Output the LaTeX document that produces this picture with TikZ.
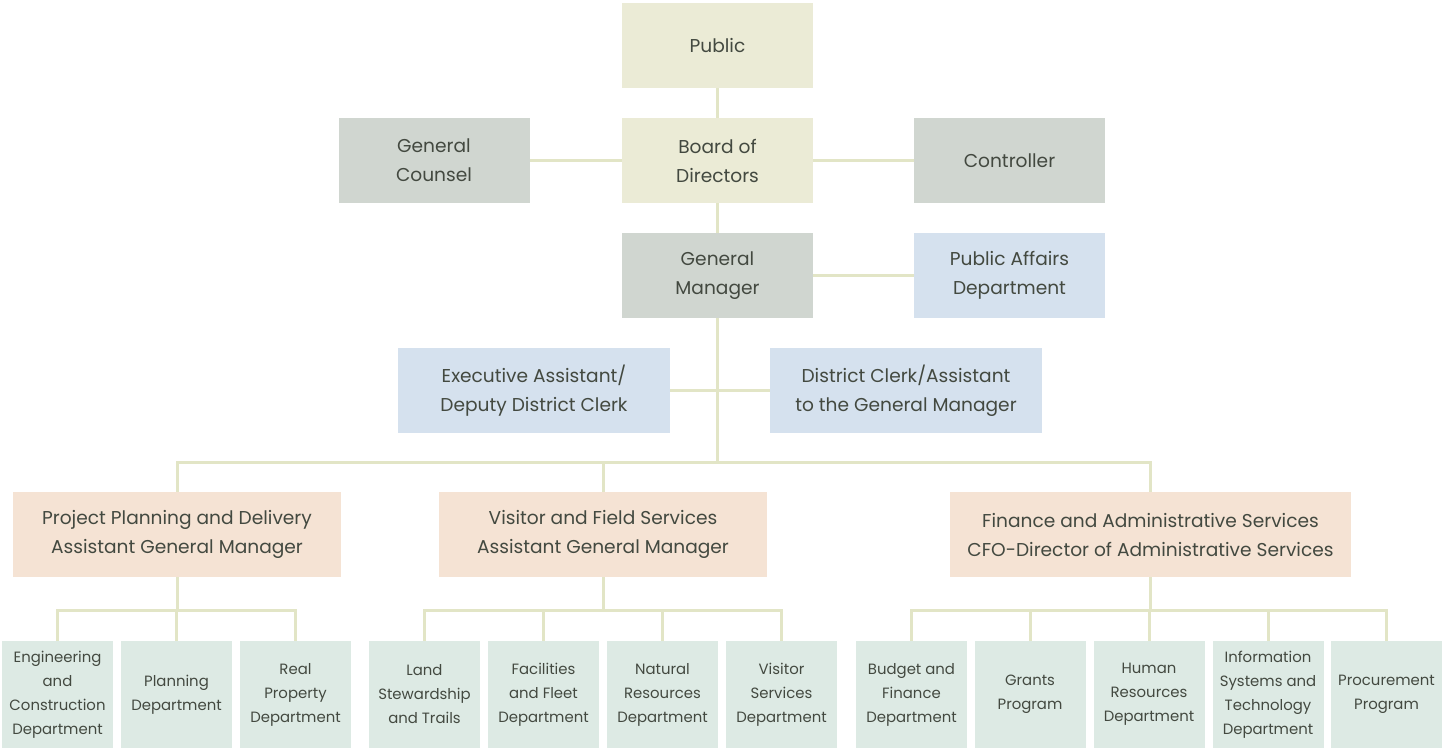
\documentclass[tikz,border=0pt]{standalone}
\usepackage{fontspec}
\setmainfont{Poppins}
\usepackage{tikz}

\definecolor{linecol}{HTML}{E2E5C6}
\definecolor{textcol}{HTML}{434940}
\definecolor{boardfill}{HTML}{EBEBD6}
\definecolor{grayfill}{HTML}{D0D6D0}
\definecolor{bluefill}{HTML}{D5E1EE}
\definecolor{agmfill}{HTML}{F5E3D4}
\definecolor{deptfill}{HTML}{DDEAE4}

\begin{document}
\begin{tikzpicture}[x=1pt,y=-1pt,
  box/.style={fill=#1, text=textcol, inner sep=0pt, align=center,
    minimum width=191pt, minimum height=85pt, font=\fontsize{18.6}{29}\selectfont},
  widebox/.style={box=#1, minimum width=272pt},
  agmbox/.style={box=agmfill, minimum height=85pt},
  dept/.style={fill=deptfill, text=textcol, inner sep=0pt, align=center,
    minimum width=111pt, minimum height=107pt, font=\fontsize{14.9}{24}\selectfont},
  link/.style={draw=linecol, line width=3pt}]
\useasboundingbox (0,0) rectangle (1442,748);

\node[box=boardfill] (public) at (717.5,45.5) {Public};
\node[box=boardfill] (board) at (717.5,160.5) {Board of\\Directors};
\node[box=grayfill] (counsel) at (434,160.5) {General\\Counsel};
\node[box=grayfill] (ctrl) at (1009.5,160.5) {Controller};
\node[box=grayfill] (gm) at (717.5,275.5) {General\\Manager};
\node[box=bluefill] (pad) at (1009.5,275.5) {Public Affairs\\Department};
\node[widebox=bluefill] (exec) at (534,390.5) {Executive Assistant/\\Deputy District Clerk};
\node[widebox=bluefill] (clerk) at (906,390.5) {District Clerk/Assistant\\to the General Manager};

\node[agmbox, minimum width=328pt] (ppd) at (177,534.5) {Project Planning and Delivery\\Assistant General Manager};
\node[agmbox, minimum width=328pt] (vfs) at (603,534.5) {Visitor and Field Services\\Assistant General Manager};
\node[agmbox, minimum width=401pt] (fas) at (1150.5,534.5) {Finance and Administrative Services\\CFO-Director of Administrative Services};

\node[dept] (eng) at (57.5,694.5) {Engineering\\and\\Construction\\Department};
\node[dept] (plan) at (176.5,694.5) {Planning\\Department};
\node[dept] (real) at (295.5,694.5) {Real\\Property\\Department};
\node[dept] (land) at (424.5,694.5) {Land\\Stewardship\\and Trails};
\node[dept] (fleet) at (543.5,694.5) {Facilities\\and Fleet\\Department};
\node[dept] (natural) at (662.5,694.5) {Natural\\Resources\\Department};
\node[dept] (visitor) at (781.5,694.5) {Visitor\\Services\\Department};
\node[dept] (budget) at (911.5,694.5) {Budget and\\Finance\\Department};
\node[dept] (grants) at (1030,694.5) {Grants\\Program};
\node[dept] (hr) at (1149,694.5) {Human\\Resources\\Department};
\node[dept] (ist) at (1268,694.5) {Information\\Systems and\\Technology\\Department};
\node[dept] (proc) at (1386.5,694.5) {Procurement\\Program};

\coordinate (bus) at (717.5,462);
\coordinate (pbus) at (177,610);
\coordinate (vbus) at (603,610);
\coordinate (fbus) at (1150.5,610);

\draw[link] (public) -- (board);
\draw[link] (counsel) -- (board);
\draw[link] (board) -- (ctrl);
\draw[link] (board) -- (gm);
\draw[link] (gm) -- (pad);
\draw[link] (exec) -- (clerk);
\draw[link] (gm) -- (bus);
\draw[link] (bus) -| (ppd);
\draw[link] (bus) -| (vfs);
\draw[link] (bus) -| (fas);

\draw[link] (ppd) -- (pbus);
\draw[link] (pbus) -| (eng);
\draw[link] (pbus) -| (plan);
\draw[link] (pbus) -| (real);

\draw[link] (vfs) -- (vbus);
\draw[link] (vbus) -| (land);
\draw[link] (vbus) -| (fleet);
\draw[link] (vbus) -| (natural);
\draw[link] (vbus) -| (visitor);

\draw[link] (fas) -- (fbus);
\draw[link] (fbus) -| (budget);
\draw[link] (fbus) -| (grants);
\draw[link] (fbus) -| (hr);
\draw[link] (fbus) -| (ist);
\draw[link] (fbus) -| (proc);
\end{tikzpicture}
\end{document}
